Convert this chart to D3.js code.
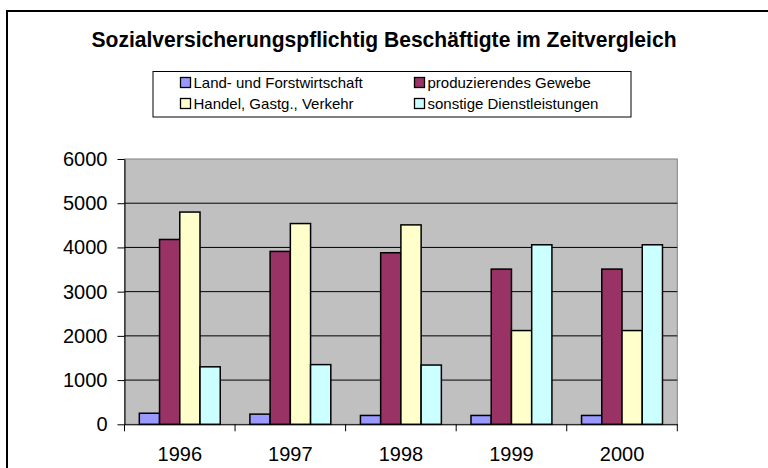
<!DOCTYPE html>
<html>
<head>
<meta charset="utf-8">
<script src="https://cdn.jsdelivr.net/npm/d3@7"></script>
<style>
  body { margin: 0; background: #fff; }
  svg { display: block; font-family: "Liberation Sans", Arial, sans-serif; }
</style>
</head>
<body>
<script>
const years = ["1996", "1997", "1998", "1999", "2000"];
const seriesNames = ["Land- und Forstwirtschaft", "produzierendes Gewebe", "Handel, Gastg., Verkehr", "sonstige Dienstleistungen"];
const landForst = [250, 230, 200, 200, 200];
const produzierend = [4180, 3910, 3880, 3510, 3510];
const handel = [4800, 4540, 4510, 2120, 2120];
const sonstige = [1300, 1350, 1340, 4060, 4060];
const yTicks = [0, 1000, 2000, 3000, 4000, 5000, 6000];
const colors = ["#9999ff", "#993366", "#ffffcc", "#ccffff"];

const seriesValues = [landForst, produzierend, handel, sonstige];
let data = years.map((yr, i) => ({year: yr, values: seriesValues.map((s, k) => ({key: k, value: s[i]}))}));

let size = {width: 768, height: 468};
let margin = {top: 159, right: 90.7, bottom: 43.7, left: 124.5};

let svg = d3.select("body").append("svg")
    .attr("width", size.width)
    .attr("height", size.height);

// outer chart frame (runs off the right and bottom edge)
svg.append("rect")
    .attr("x", 7).attr("y", 11)
    .attr("width", 800).attr("height", 500)
    .attr("fill", "none")
    .attr("stroke", "#000")
    .attr("stroke-width", 2);

svg.append("text")
    .attr("x", 384).attr("y", 46.5)
    .attr("text-anchor", "middle")
    .attr("font-size", 22)
    .attr("font-weight", "bold")
    .attr("textLength", 585)
    .attr("lengthAdjust", "spacingAndGlyphs")
    .text("Sozialversicherungspflichtig Beschäftigte im Zeitvergleich");

// legend
let legend = svg.append("g");
legend.append("rect")
    .attr("x", 153).attr("y", 71.5)
    .attr("width", 478).attr("height", 45.5)
    .attr("fill", "#fff")
    .attr("stroke", "#000");

let legendItems = legend.selectAll("g.item")
    .data(seriesNames)
    .join("g")
    .attr("class", "item")
    .attr("transform", (d, i) => `translate(${i % 2 ? 414.5 : 180.5},${i < 2 ? 77.5 : 98.5})`);

legendItems.append("rect")
    .attr("width", 10).attr("height", 10)
    .attr("fill", (d, i) => colors[i])
    .attr("stroke", "#000")
    .attr("stroke-width", 1.3);

legendItems.append("text")
    .attr("x", 13).attr("y", 10.5)
    .attr("font-size", 15)
    .text(d => d);

let x = d3.scaleBand()
    .domain(years)
    .range([margin.left, size.width - margin.right]);

let xInner = d3.scaleBand()
    .domain(d3.range(seriesNames.length))
    .range([x.bandwidth() * 0.134, x.bandwidth() * 0.866]);

let y = d3.scaleLinear()
    .domain([0, 6000])
    .range([size.height - margin.bottom, margin.top]);

// plot area
svg.append("rect")
    .attr("x", margin.left).attr("y", margin.top)
    .attr("width", x.range()[1] - margin.left)
    .attr("height", y(0) - margin.top)
    .attr("fill", "#c0c0c0")
    .attr("stroke", "#808080");

svg.append("g")
    .selectAll("line")
    .data(yTicks.filter(t => t > 0 && t < 6000))
    .join("line")
    .attr("x1", margin.left).attr("x2", x.range()[1])
    .attr("y1", d => y(d)).attr("y2", d => y(d))
    .attr("stroke", "#000");

svg.append("g")
    .selectAll("g")
    .data(data)
    .join("g")
    .attr("transform", d => `translate(${x(d.year)},0)`)
    .selectAll("rect")
    .data(d => d.values)
    .join("rect")
    .attr("x", d => xInner(d.key))
    .attr("width", xInner.bandwidth())
    .attr("y", d => y(d.value))
    .attr("height", d => y(0) - y(d.value))
    .attr("fill", d => colors[d.key])
    .attr("stroke", "#000")
    .attr("stroke-width", 1.5);

let yAxis = g => g
    .attr("transform", `translate(${margin.left},0)`)
    .call(d3.axisLeft(y).tickValues(yTicks).tickFormat(d3.format("d")).tickSize(7).tickPadding(10).tickSizeOuter(0))
    .call(g => g.selectAll("text").attr("font-size", 20).attr("fill", "#000").attr("font-family", null))
    .call(g => g.selectAll("line, path").attr("stroke", "#000"));

let xAxis = g => g
    .attr("transform", `translate(0,${y(0)})`)
    .call(d3.axisBottom(x).tickSize(0).tickPadding(23))
    .call(g => g.selectAll("text").attr("font-size", 20).attr("fill", "#000").attr("font-family", null))
    .call(g => g.select(".domain").attr("stroke", "#000"))
    .call(g => g.selectAll(".sep")
        .data(years.map(d => x(d)).concat([x.range()[1]]))
        .join("line")
        .attr("class", "sep")
        .attr("x1", d => d).attr("x2", d => d)
        .attr("y1", 0).attr("y2", 7)
        .attr("stroke", "#000"));

svg.append("g").call(yAxis).attr("font-size", 20);
svg.append("g").call(xAxis).attr("font-size", 20);
</script>
</body>
</html>
